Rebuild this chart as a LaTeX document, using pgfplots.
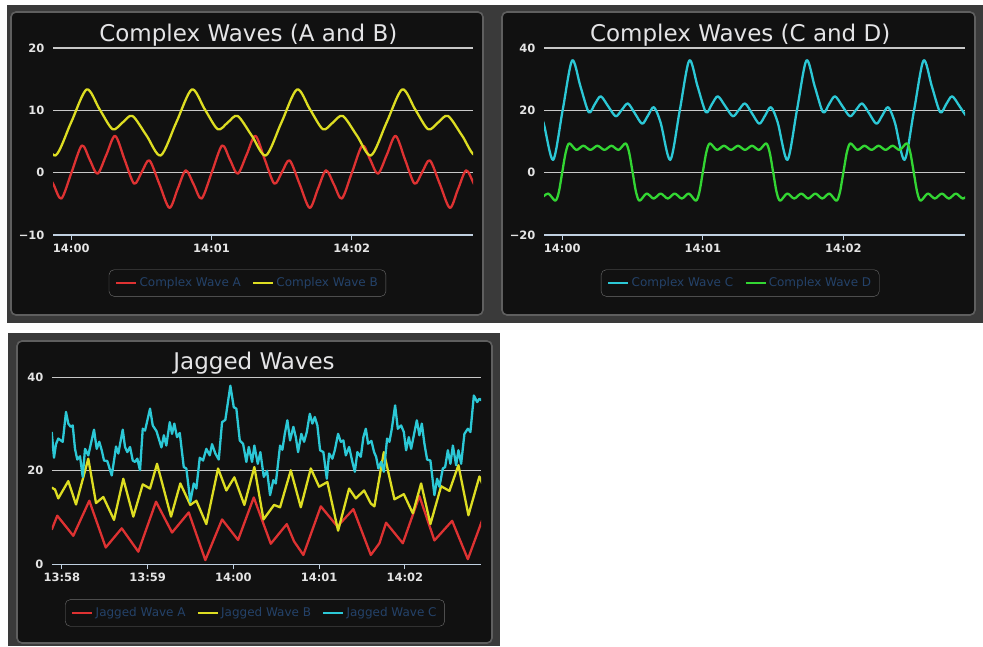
\documentclass[border=0pt]{standalone}
\usepackage{fontspec}
\setmainfont{DejaVu Sans}
\usepackage{pgfplots}
\pgfplotsset{compat=1.18}

\definecolor{outerbg}{RGB}{58,58,58}
\definecolor{panelbg}{RGB}{17,17,17}
\definecolor{panelborder}{RGB}{95,95,95}
\definecolor{gridc}{RGB}{200,200,200}
\definecolor{axisc}{RGB}{192,208,224}
\definecolor{tickc}{RGB}{228,228,228}
\definecolor{titlec}{RGB}{228,228,230}
\definecolor{legtext}{RGB}{36,66,105}
\definecolor{legborder}{RGB}{110,110,110}
\definecolor{cred}{RGB}{222,50,50}
\definecolor{cyellow}{RGB}{221,221,34}
\definecolor{ccyan}{RGB}{44,200,214}
\definecolor{cgreen}{RGB}{51,214,51}

\pgfplotsset{
 panel/.style={
  scale only axis, height=187pt,
  axis x line*=bottom, axis y line*=left,
  y axis line style={draw=none},
  x axis line style={draw=axisc, line width=1.3pt},
  ymajorgrids, major grid style={draw=gridc, line width=1.2pt},
  tick align=outside, major tick length=5pt,
  xtick style={draw=axisc, line width=1pt},
  ytick style={draw=none},
  xticklabel style={font=\fontsize{11.5}{13}\selectfont\bfseries, text=tickc},
  yticklabel style={font=\fontsize{11.5}{13}\selectfont\bfseries, text=tickc},
  title style={font=\fontsize{23}{28}\selectfont, text=titlec, anchor=base, yshift=-6pt},
  legend style={draw=legborder, rounded corners=5pt, fill=panelbg, text=legtext,
    font=\fontsize{12}{14}\selectfont, legend columns=-1, anchor=center,
    inner xsep=6pt, inner ysep=6pt,
    /tikz/every even column/.append style={column sep=9pt}},
  legend image code/.code={\draw[#1, line width=2.5pt] (0pt,0pt) -- (20pt,0pt);},
  every axis plot/.append style={line width=2.3pt, line join=round},
 },
}

\begin{document}
\begin{tikzpicture}
\fill[white] (0pt,0pt) rectangle (983pt,-646pt);
\useasboundingbox (0pt,0pt) rectangle (983pt,-646pt);
\fill[outerbg] (7pt,-5pt) rectangle (983pt,-323pt);
\fill[outerbg] (8pt,-333pt) rectangle (500pt,-646pt);
\draw[panelborder, fill=panelbg, rounded corners=5pt, line width=1.6pt] (11pt,-12pt) rectangle (483pt,-315pt);
\draw[panelborder, fill=panelbg, rounded corners=5pt, line width=1.6pt] (502pt,-12pt) rectangle (975pt,-315pt);
\draw[panelborder, fill=panelbg, rounded corners=5pt, line width=1.6pt] (17pt,-341pt) rectangle (492pt,-643pt);

% ---------- Panel 1 ----------
\begin{axis}[panel, at={(53pt,-235pt)}, anchor=south west, width=420pt,
  xmin=-7.8, xmax=171.9, ymin=-10, ymax=20,
  xtick={0,60,120}, xticklabels={14:00,14:01,14:02},
  ytick={-10,0,10,20}, yticklabels={−10,0,10,20},
  title={Complex Waves (A and B)}, title style={at={(0.465,1.034)}},
  legend style={at={(0.463,-0.257)}}]
\addplot[cred, smooth] coordinates {
(-11.0,0.37) (-7.6,-1.89) (-4.2,-4.15) (0.18,0.1) (4.55,4.36) (7.9,2.1) (11.25,-0.16) (15.03,2.87) (18.8,5.9) (22.85,2.07) (26.9,-1.76) (30.18,0.1) (33.45,1.97) (37.73,-1.84) (42.0,-5.64) (45.5,-2.64) (49.0,0.37) (52.4,-1.89) (55.8,-4.15)
(60.18,0.1) (64.55,4.36) (67.9,2.1) (71.25,-0.16) (75.03,2.87) (78.8,5.9) (82.85,2.07) (86.9,-1.76) (90.18,0.1) (93.45,1.97) (97.73,-1.84) (102.0,-5.64) (105.5,-2.64) (109.0,0.37) (112.4,-1.89) (115.8,-4.15)
(120.18,0.1) (124.55,4.36) (127.9,2.1) (131.25,-0.16) (135.03,2.87) (138.8,5.9) (142.85,2.07) (146.9,-1.76) (150.18,0.1) (153.45,1.97) (157.73,-1.84) (162.0,-5.64) (165.5,-2.64) (169.0,0.37) (172.4,-1.89) (175.8,-4.15)};
\addlegendentry{Complex Wave A}
\addplot[cyellow, smooth] coordinates {
(-18.8,9.1) (-12.75,5.94) (-6.7,2.77) (-0.05,8.06) (6.6,13.35) (12.15,10.16) (17.7,6.97) (21.95,8.04) (26.2,9.1) (32.25,5.94) (38.3,2.77) (44.95,8.06)
(51.6,13.35) (57.15,10.16) (62.7,6.97) (66.95,8.04) (71.2,9.1) (77.25,5.94) (83.3,2.77) (89.95,8.06)
(96.6,13.35) (102.15,10.16) (107.7,6.97) (111.95,8.04) (116.2,9.1) (122.25,5.94) (128.3,2.77) (134.95,8.06)
(141.6,13.35) (147.15,10.16) (152.7,6.97) (156.95,8.04) (161.2,9.1) (167.25,5.94) (173.3,2.77) (179.95,8.06)};
\addlegendentry{Complex Wave B}
\end{axis}

% ---------- Panel 2 ----------
\begin{axis}[panel, at={(544pt,-235pt)}, anchor=south west, width=421pt,
  xmin=-7.8, xmax=171.9, ymin=-20, ymax=40,
  xtick={0,60,120}, xticklabels={14:00,14:01,14:02},
  ytick={-20,0,20,40}, yticklabels={−20,0,20,40},
  title={Complex Waves (C and D)}, title style={at={(0.466,1.034)}},
  legend style={at={(0.466,-0.257)}}]
\addplot[ccyan, smooth] coordinates {
(-10.9,21.0) (-8.0,16.0) (-3.9,4.1) (0.15,20.0) (4.2,36.0) (7.75,27.7) (11.3,19.4) (13.85,21.95) (16.4,24.5) (19.6,21.3) (22.8,18.1) (25.4,20.15) (28.0,22.2) (31.05,18.95) (34.1,15.7) (36.6,18.35) (39.1,21.0) (42.0,16.0) (46.1,4.1)
(50.15,20.0) (54.2,36.0) (57.75,27.7) (61.3,19.4) (63.85,21.95) (66.4,24.5) (69.6,21.3) (72.8,18.1) (75.4,20.15) (78.0,22.2) (81.05,18.95) (84.1,15.7) (86.6,18.35) (89.1,21.0) (92.0,16.0) (96.1,4.1)
(100.15,20.0) (104.2,36.0) (107.75,27.7) (111.3,19.4) (113.85,21.95) (116.4,24.5) (119.6,21.3) (122.8,18.1) (125.4,20.15) (128.0,22.2) (131.05,18.95) (134.1,15.7) (136.6,18.35) (139.1,21.0) (142.0,16.0) (146.1,4.1)
(150.15,20.0) (154.2,36.0) (157.75,27.7) (161.3,19.4) (163.85,21.95) (166.4,24.5) (169.6,21.3) (172.8,18.1) (175.4,20.15)};
\addlegendentry{Complex Wave C}
\addplot[cgreen, smooth] coordinates {
(-9,-8.3) (-6,-6.7) (-3,-9.0) (-1.5,-6.3) (0,0.2) (1.5,6.6) (3,9.4) (6,7.3) (9,8.65) (12,7.3) (15,8.65) (18,7.3) (21,8.65) (24,7.3) (27,9.4) (28.5,6.6) (30,0.2) (31.5,-6.3) (33,-9.0) (36,-6.7) (39,-8.3) (42,-6.7) (45,-8.3) (48,-6.7) (51,-8.3) (54,-6.7) (57,-9.0) (58.5,-6.3)
(60,0.2) (61.5,6.6) (63,9.4) (66,7.3) (69,8.65) (72,7.3) (75,8.65) (78,7.3) (81,8.65) (84,7.3) (87,9.4) (88.5,6.6) (90,0.2) (91.5,-6.3) (93,-9.0) (96,-6.7) (99,-8.3) (102,-6.7) (105,-8.3) (108,-6.7) (111,-8.3) (114,-6.7) (117,-9.0) (118.5,-6.3)
(120,0.2) (121.5,6.6) (123,9.4) (126,7.3) (129,8.65) (132,7.3) (135,8.65) (138,7.3) (141,8.65) (144,7.3) (147,9.4) (148.5,6.6) (150,0.2) (151.5,-6.3) (153,-9.0) (156,-6.7) (159,-8.3) (162,-6.7) (165,-8.3) (168,-6.7) (171,-8.3) (174,-6.7)};
\addlegendentry{Complex Wave D}
\end{axis}

% ---------- Panel 3 ----------
\begin{axis}[panel, at={(52pt,-564.3pt)}, anchor=south west, width=429pt,
  xmin=-126.9, xmax=173.3, ymin=0, ymax=40,
  xtick={-120,-60,0,60,120}, xticklabels={13:58,13:59,14:00,14:01,14:02},
  ytick={0,20,40}, yticklabels={0,20,40},
  title={Jagged Waves}, title style={at={(0.471,1.043)}},
  legend style={at={(0.473,-0.26)}}]
\addplot[cred] coordinates {
(-127.1,7.4) (-123.2,10.4) (-112.0,6.1) (-100.8,13.6) (-89.3,3.6) (-78.1,7.7) (-66.5,2.7) (-54.1,13.4) (-42.9,6.8) (-31.2,11.1) (-19.6,0.9) (-7.9,9.6) (3.3,5.2) (14.3,14.3) (26.2,4.4) (37.4,8.6) (42.5,4.9) (49.0,2.0) (61.2,12.4) (72.8,8.1) (84.0,11.8) (96.2,2.0) (102.2,4.5) (106.9,8.9) (118.6,4.5) (130.2,14.6) (140.7,5.1) (153.1,9.3) (164.1,1.1) (174.1,9.4)};
\addlegendentry{Jagged Wave A}
\addplot[cyellow] coordinates {
(-127.1,16.4) (-124.8,16.0) (-122.5,14.1) (-115.5,17.8) (-110.1,12.8) (-101.5,22.6) (-96.1,13.1) (-91.0,14.4) (-83.5,9.5) (-77.0,18.3) (-70.0,10.2) (-63.4,17.1) (-58.3,16.2) (-53.4,21.5) (-43.6,10.2) (-37.1,17.3) (-30.1,12.7) (-25.9,13.6) (-18.9,8.6) (-10.7,20.5) (-4.9,15.8) (0.7,18.6) (7.7,12.7) (14.7,20.8) (21.1,9.6) (28.5,12.7) (32.7,12.2) (40.2,20.1) (47.2,12.2) (54.2,20.5) (60.0,16.6) (65.8,17.6) (73.3,7.2) (81.0,16.2) (85.7,14.1) (91.5,15.8) (96.2,13.0) (98.7,12.4) (105.3,24.0) (112.7,13.9) (119.3,15.0) (125.6,10.9) (131.4,17.3) (137.9,8.6) (145.4,16.7) (151.2,15.7) (157.5,21.2) (164.5,10.5) (172.2,18.8) (174.1,17.3)};
\addlegendentry{Jagged Wave B}
\addplot[ccyan] coordinates {
(-127.1,28.3) (-125.5,22.8) (-124.1,25.7) (-122.5,26.9) (-119.4,26.2) (-117.1,32.6) (-115.5,30.1) (-113.8,29.4) (-112.4,29.7) (-110.8,24.7) (-109.2,22.4) (-107.3,23.1) (-105.4,18.7) (-103.8,24.7) (-101.5,23.3) (-97.5,28.8) (-95.6,24.7) (-93.8,26.2) (-92.1,24.4) (-90.5,22.2) (-88.2,22.1) (-85.1,19.0) (-83.5,22.2) (-82.1,25.2) (-80.5,23.7) (-77.4,28.8) (-75.8,25.1) (-74.2,24.0) (-72.3,25.1) (-70.4,22.2) (-68.8,21.9) (-67.2,22.6) (-65.3,20.1) (-63.4,29.0) (-61.8,28.6) (-58.3,33.3) (-56.4,29.7) (-53.8,28.5) (-50.3,25.0) (-48.6,27.6) (-46.9,25.4) (-44.5,30.4) (-42.9,27.9) (-41.3,30.1) (-39.4,27.2) (-37.5,28.1) (-34.7,20.8) (-32.9,20.5) (-30.1,13.4) (-27.7,17.3) (-25.9,16.2) (-23.5,22.8) (-21.2,22.2) (-18.9,24.7) (-16.5,23.3) (-14.9,25.7) (-12.6,23.7) (-10.2,22.4) (-7.9,30.4) (-5.6,30.9) (-2.1,38.2) (0.3,33.6) (2.1,33.3) (4.5,26.5) (6.8,25.8) (9.1,21.9) (10.8,25.1) (13.1,21.9) (14.7,25.4) (17.1,21.5) (18.9,24.0) (21.3,18.7) (23.6,20.0) (25.7,14.8) (28.0,18.0) (29.7,17.3) (32.7,25.4) (34.3,24.5) (36.0,27.9) (37.8,30.8) (39.7,26.5) (42.0,29.4) (43.7,27.2) (45.3,24.0) (47.6,27.9) (49.5,26.2) (51.4,28.3) (53.5,32.2) (55.3,30.1) (57.0,31.5) (58.8,29.7) (60.7,24.4) (63.0,24.0) (65.4,18.3) (67.0,23.7) (69.3,22.6) (71.0,24.4) (73.3,27.9) (75.2,26.2) (77.0,26.5) (78.7,23.3) (81.0,25.1) (83.3,21.9) (85.0,19.8) (86.8,24.0) (89.2,23.0) (91.0,27.2) (92.7,29.0) (94.3,25.8) (96.6,26.4) (98.5,24.0) (99.9,23.0) (101.5,20.5) (103.4,21.9) (105.3,19.8) (107.6,26.9) (109.2,26.2) (110.9,29.0) (113.2,34.0) (115.1,29.0) (117.4,29.7) (119.3,28.3) (120.9,24.4) (122.8,27.2) (124.4,24.7) (126.3,27.6) (128.4,30.8) (130.2,27.6) (131.9,30.1) (133.7,25.8) (135.6,22.4) (137.9,22.2) (140.7,14.8) (142.6,18.3) (144.2,16.6) (146.6,20.5) (148.2,20.8) (150.1,24.4) (151.9,21.5) (153.6,25.4) (155.9,21.2) (157.5,24.4) (159.4,21.5) (161.7,27.9) (164.1,29.0) (165.9,28.3) (168.3,36.1) (170.6,34.7) (172.2,35.4) (174.1,35.0)};
\addlegendentry{Jagged Wave C}
\end{axis}
\end{tikzpicture}
\end{document}
